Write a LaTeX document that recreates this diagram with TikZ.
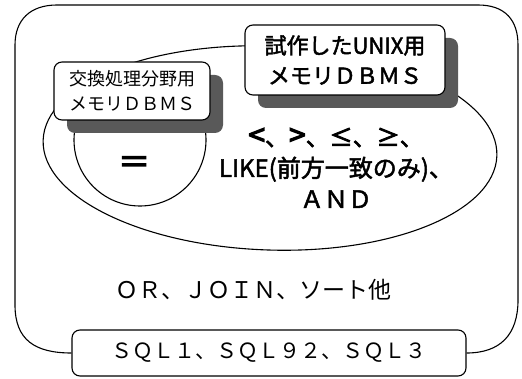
\documentclass[tikz,border=0pt]{standalone}
\usepackage{fontspec}
\newfontfamily\jp{Noto Sans CJK JP}
\newfontfamily\jpb[FakeBold=2]{Noto Sans CJK JP}
\newfontfamily\jpbb[FakeBold=4]{Noto Sans CJK JP}
\newcommand\bigsym[1]{{\jpbb\fontsize{30}{31}\selectfont #1}}
\newcommand\midsym[1]{{\jpbb\fontsize{23}{31}\selectfont #1}}
\usetikzlibrary{shadows}
\begin{document}
\begin{tikzpicture}[x=1pt,y=-1pt, line width=1.1pt,
 box/.style={draw, rounded corners=8pt, fill=white, inner sep=0pt, align=center},
 shade/.style={general shadow={fill=black!65, shadow xshift=13pt, shadow yshift=-13pt}}]
\useasboundingbox (0,0) rectangle (522,379);
\node[box, minimum width=394pt, minimum height=46pt, font=\jp\fontsize{21}{24}\selectfont] (sql) at (269,353) {ＳＱＬ１、ＳＱＬ９２、ＳＱＬ３};
\draw (sql.west) .. controls (35,353) and (15,340) .. (15,305) -- (15,45) .. controls (15,20) and (30,5) .. (57,5) -- (478,5) .. controls (505,5) and (518,20) .. (518,45) -- (518,300) .. controls (518,335) and (500,353) .. (sql.east);
\draw (270,148) ellipse [x radius=227, y radius=102, rotate=-2];
\draw (140,140) circle [radius=66];
\node[box, shade, minimum width=156pt, minimum height=58pt, font=\jp\fontsize{18}{25}\selectfont] (left) at (132,91) {交換処理分野用\\メモリＤＢＭＳ};
\node[box, shade, minimum width=200pt, minimum height=70pt, font=\jpb\fontsize{22}{30}\selectfont] (right) at (345,60) {試作したUNIX用\\メモリＤＢＭＳ};
\node[font=\jpbb\fontsize{32}{32}\selectfont] (eq) at (134,165) {＝};
\node[align=center, font=\jpb\fontsize{24}{31}\selectfont] (ops) at (336,168) {\bigsym{<}、\bigsym{>}、\midsym{≤}、\midsym{≥}、\\LIKE(前方一致のみ)、\\ＡＮＤ};
\node[font=\jp\fontsize{23}{24}\selectfont] (or) at (253,290) {ＯＲ、ＪＯＩＮ、ソート他};
\end{tikzpicture}
\end{document}
